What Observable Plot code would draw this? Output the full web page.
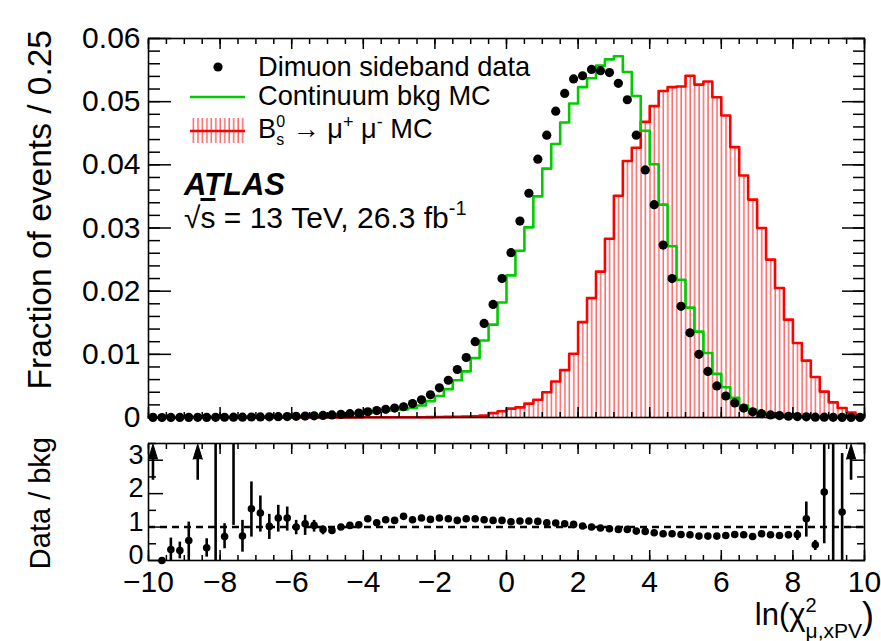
<!DOCTYPE html>
<html><head><meta charset="utf-8">
<script src="https://cdn.jsdelivr.net/npm/d3@7"></script>
<script src="https://cdn.jsdelivr.net/npm/@observablehq/plot@0.6"></script>
<style>
body{margin:0;background:#fff;}
#wrap{position:relative;width:881px;height:641px;overflow:hidden;font-family:"Liberation Sans",Arial,Helvetica,sans-serif;}
#wrap svg{position:absolute;left:0;}
</style></head><body><div id="wrap"></div>
<script>
// ---- histogram binning: 80 bins of width 0.25 in ln(chi2) ----
const binEdges = d3.range(81).map(i => -10 + i * 0.25);

// Dimuon sideband data (fraction of events per bin)
const dataFrac = [
 0.00002,0.00000,0.00001,0.00001,0.00002,0.00003,0.00002,0.00003,0.00004,0.00005,
 0.00005,0.00008,0.00009,0.00010,0.00013,0.00015,0.00018,0.00022,0.00027,0.00033,
 0.00040,0.00050,0.00060,0.00070,0.00090,0.00110,0.00130,0.00150,0.00170,0.00220,
 0.00280,0.00360,0.00470,0.00590,0.00760,0.00950,0.01200,0.01490,0.01790,0.02200,
 0.02610,0.03110,0.03550,0.04090,0.04470,0.04850,0.05130,0.05360,0.05410,0.05510,
 0.05490,0.05460,0.05290,0.05030,0.04470,0.03920,0.03370,0.02730,0.02200,0.01760,
 0.01340,0.01000,0.00730,0.00500,0.00340,0.00230,0.00150,0.00090,0.00060,0.00040,
 0.00030,0.00020,0.00015,0.00010,0.00005,0.00005,0.00003,0.00002,0.00002,0.00001];

// Continuum background MC
const bkgMC = [
 0.00001,0.00001,0.00002,0.00002,0.00003,0.00001,0.00004,0.00002,0.00005,0.00002,
 0.00007,0.00005,0.00006,0.00010,0.00010,0.00012,0.00018,0.00020,0.00026,0.00035,
 0.00044,0.00050,0.00057,0.00065,0.00072,0.00097,0.00107,0.00125,0.00129,0.00150,
 0.00190,0.00260,0.00340,0.00450,0.00590,0.00730,0.00940,0.01220,0.01470,0.01820,
 0.02250,0.02640,0.03010,0.03500,0.03940,0.04330,0.04670,0.04970,0.05230,0.05370,
 0.05570,0.05670,0.05720,0.05470,0.05090,0.04540,0.04010,0.03370,0.02710,0.02180,
 0.01740,0.01360,0.01020,0.00690,0.00480,0.00310,0.00190,0.00120,0.00070,0.00050,
 0.00040,0.00030,0.00020,0.00010,0.00010,0.00003,0.00002,0.00002,0.00001,0.00001];

// Bs0 -> mu+ mu- signal MC
const sigMC = [
 0.00000,0.00000,0.00000,0.00000,0.00000,0.00000,0.00000,0.00000,0.00000,0.00000,
 0.00000,0.00000,0.00000,0.00000,0.00000,0.00000,0.00000,0.00000,0.00001,0.00001,
 0.00001,0.00002,0.00002,0.00002,0.00003,0.00003,0.00004,0.00004,0.00005,0.00005,
 0.00005,0.00006,0.00008,0.00010,0.00012,0.00015,0.00020,0.00030,0.00070,0.00100,
 0.00140,0.00160,0.00220,0.00280,0.00400,0.00570,0.00750,0.01010,0.01510,0.01890,
 0.02310,0.02830,0.03510,0.04060,0.04270,0.04680,0.04930,0.05170,0.05230,0.05240,
 0.05410,0.05270,0.05320,0.05070,0.04780,0.04280,0.03830,0.03450,0.03000,0.02500,
 0.02050,0.01550,0.01180,0.00900,0.00640,0.00410,0.00240,0.00150,0.00080,0.00040];

// Data / bkg ratio with error bar ends (null = not drawn)
const ratio = [
 null,0.00,0.33,0.30,0.60,null,0.38,null,0.72,null,
 0.73,1.55,1.42,1.02,1.27,1.27,1.00,1.10,1.05,0.93,
 0.90,1.00,1.05,1.07,1.25,1.13,1.22,1.20,1.32,1.22,
 1.27,1.23,1.27,1.25,1.20,1.25,1.25,1.22,1.20,1.20,
 1.16,1.18,1.18,1.17,1.13,1.12,1.10,1.08,1.03,1.00,
 0.97,0.95,0.93,0.93,0.88,0.87,0.83,0.80,0.80,0.78,
 0.77,0.73,0.73,0.73,0.75,0.78,0.77,0.72,0.80,0.77,
 0.75,0.77,0.77,1.25,0.47,2.05,null,1.45,null,null];
const ratioLo = [
 null,null,0.00,0.05,0.00,null,0.10,0.00,0.35,1.05,
 0.25,0.70,0.85,0.63,0.85,0.88,0.77,0.75,0.85,0.77,
 0.78,0.92,0.98,1.01,1.19,1.08,1.17,1.16,1.28,1.18,
 1.23,1.20,1.24,1.22,1.17,1.22,1.22,1.19,1.17,1.17,
 1.13,1.15,1.15,1.14,1.10,1.09,1.07,1.05,1.00,0.97,
 0.94,0.92,0.90,0.90,0.85,0.84,0.80,0.77,0.77,0.75,
 0.74,0.70,0.70,0.69,0.71,0.73,0.72,0.66,0.73,0.70,
 0.69,0.65,0.60,0.70,0.30,0.50,0.00,0.00,null,null];
const ratioHi = [
 null,null,0.67,0.55,1.15,null,0.65,3.50,1.10,3.50,
 1.20,2.35,1.93,1.38,1.65,1.60,1.20,1.35,1.20,1.03,
 1.02,1.08,1.12,1.13,1.31,1.18,1.27,1.24,1.36,1.26,
 1.31,1.26,1.30,1.28,1.23,1.28,1.28,1.25,1.23,1.23,
 1.19,1.21,1.21,1.20,1.16,1.15,1.13,1.11,1.06,1.03,
 1.00,0.98,0.96,0.96,0.91,0.90,0.86,0.83,0.83,0.81,
 0.80,0.76,0.76,0.77,0.79,0.83,0.82,0.78,0.87,0.84,
 0.81,0.87,0.90,1.75,0.60,3.50,3.50,3.20,null,null];
// bins whose ratio lies above the panel (drawn as arrows)
const ratioArrowBins = [0, 5, 78];

// axis ticks
const xTicks = [-10,-8,-6,-4,-2,0,2,4,6,8,10];
const xMinorTicks = d3.range(-10, 10.001, 0.5);
const mainYTicks = [0,0.01,0.02,0.03,0.04,0.05,0.06];
const mainYMinor = d3.range(0, 0.0601, 0.002);
const ratioYTicks = [0,1,2,3];
const ratioYMinor = [0.5,1.5,2.5,3.5];

// ---- tables ----
const rows = dataFrac.map((v, i) => ({
  x1: binEdges[i], x2: binEdges[i+1], xc: (binEdges[i] + binEdges[i+1]) / 2,
  data: v, bkg: bkgMC[i], sig: sigMC[i], r: ratio[i], lo: ratioLo[i], hi: ratioHi[i], i
}));
const steps = binEdges.map((e, i) => ({x: e, bkg: bkgMC[Math.min(i, 79)], sig: sigMC[Math.min(i, 79)]}));
const arrows = rows.filter(d => ratioArrowBins.includes(d.i));

const FONT = "Liberation Sans, Arial, Helvetica, sans-serif";
const FS = 30;
const blank = () => "";

const main = Plot.plot({
  width: 881, height: 430,
  marginLeft: 148, marginRight: 17, marginTop: 38, marginBottom: 13,
  x: {domain: [-10, 10]},
  y: {domain: [0, 0.06]},
  style: {fontFamily: FONT, fontSize: FS + "px", background: "none", color: "black", overflow: "visible"},
  marks: [
    Plot.rectY(rows, {x1: "x1", x2: "x2", y: "sig", fill: "url(#hatch)", inset: 0}),
    Plot.line(steps, {x: "x", y: "sig", curve: "step-after", stroke: "#ff0000", strokeWidth: 2.6}),
    Plot.line(steps, {x: "x", y: "bkg", curve: "step-after", stroke: "#00cc00", strokeWidth: 2.6}),
    Plot.dot(rows, {x: "xc", y: "data", r: 4.6, fill: "black"}),
    Plot.frame({stroke: "black", strokeWidth: 1.6}),
    Plot.axisY({anchor: "left", ticks: mainYTicks, tickSize: -23, tickPadding: 31, strokeWidth: 1.5,
      tickFormat: d => d === 0 ? "0" : d.toFixed(2), fontSize: FS, label: null}),
    Plot.axisY({anchor: "left", ticks: mainYMinor, tickSize: -12, tickFormat: blank, strokeWidth: 1.5, label: null}),
    Plot.axisY({anchor: "right", ticks: mainYTicks, tickSize: -23, tickFormat: blank, strokeWidth: 1.5, label: null}),
    Plot.axisY({anchor: "right", ticks: mainYMinor, tickSize: -12, tickFormat: blank, strokeWidth: 1.5, label: null}),
    Plot.axisX({anchor: "bottom", ticks: xTicks, tickSize: -10, tickFormat: blank, strokeWidth: 1.5, label: null}),
    Plot.axisX({anchor: "bottom", ticks: xMinorTicks, tickSize: -5, tickFormat: blank, strokeWidth: 1.5, label: null}),
    Plot.axisX({anchor: "top", ticks: xTicks, tickSize: -10, tickFormat: blank, strokeWidth: 1.5, label: null}),
    Plot.axisX({anchor: "top", ticks: xMinorTicks, tickSize: -5, tickFormat: blank, strokeWidth: 1.5, label: null})
  ]
});

const ratioPlot = Plot.plot({
  width: 881, height: 211,
  marginLeft: 148, marginRight: 17, marginTop: 13, marginBottom: 81,
  x: {domain: [-10, 10]},
  y: {domain: [0, 3.5]},
  style: {fontFamily: FONT, fontSize: FS + "px", background: "none", color: "black", overflow: "visible"},
  marks: [
    Plot.ruleY([1], {stroke: "black", strokeWidth: 2.6, strokeDasharray: "7,5"}),
    Plot.ruleX(rows.filter(d => d.lo != null), {x: "xc", y1: "lo", y2: "hi", stroke: "black", strokeWidth: 2.6}),
    Plot.dot(rows.filter(d => d.r != null), {x: "xc", y: "r", r: 3.8, fill: "black"}),
    Plot.ruleX(arrows, {x: "xc", y1: 2.4, y2: 3.1, stroke: "black", strokeWidth: 2.6}),
    Plot.vector(arrows, {x: "xc", y: 3.03, length: 15, r: 4.6, shape: "spike", anchor: "start", fill: "black", stroke: "black", strokeWidth: 1}),
    Plot.frame({stroke: "black", strokeWidth: 1.6}),
    Plot.axisY({anchor: "left", ticks: ratioYTicks, tickSize: -15, tickFormat: blank, strokeWidth: 1.5, label: null}),
    Plot.axisY({anchor: "left", ticks: ratioYTicks, tickSize: 0, tickPadding: 5, strokeWidth: 0,
      tickFormat: d => String(d), fontSize: 27, dy: -5, label: null}),
    Plot.axisY({anchor: "left", ticks: ratioYMinor, tickSize: -8, tickFormat: blank, strokeWidth: 1.5, label: null}),
    Plot.axisY({anchor: "right", ticks: ratioYTicks, tickSize: -15, tickFormat: blank, strokeWidth: 1.5, label: null}),
    Plot.axisY({anchor: "right", ticks: ratioYMinor, tickSize: -8, tickFormat: blank, strokeWidth: 1.5, label: null}),
    Plot.axisX({anchor: "bottom", ticks: xTicks, tickSize: -10, tickPadding: 20, strokeWidth: 1.5,
      tickFormat: d => d < 0 ? "\u2212" + Math.abs(d) : String(d), fontSize: FS, label: null}),
    Plot.axisX({anchor: "bottom", ticks: xMinorTicks, tickSize: -5, tickFormat: blank, strokeWidth: 1.5, label: null}),
    Plot.axisX({anchor: "top", ticks: xTicks, tickSize: -10, tickFormat: blank, strokeWidth: 1.5, label: null}),
    Plot.axisX({anchor: "top", ticks: xMinorTicks, tickSize: -5, tickFormat: blank, strokeWidth: 1.5, label: null})
  ]
});

const wrap = document.getElementById("wrap");
main.style.top = "0px";
ratioPlot.style.top = "430px";
wrap.appendChild(main);
wrap.appendChild(ratioPlot);

// hatch pattern for the signal histogram
const defs = d3.select(main).insert("defs", ":first-child");
const pat = defs.append("pattern").attr("id", "hatch").attr("patternUnits", "userSpaceOnUse")
  .attr("width", 4.475).attr("height", 20);
pat.append("line").attr("x1", 1).attr("x2", 1).attr("y1", 0).attr("y2", 20)
  .attr("stroke", "#ff2a2a").attr("stroke-width", 1.2).attr("stroke-opacity", 0.9);

// ---- overlay: legend, labels, axis titles ----
const ov = d3.select(wrap).append("svg").attr("width", 881).attr("height", 641)
  .style("top", "0px").style("pointer-events", "none")
  .attr("font-family", FONT).attr("fill", "black");
const od = ov.append("defs");
const pat2 = od.append("pattern").attr("id", "hatchL").attr("patternUnits", "userSpaceOnUse")
  .attr("width", 4.475).attr("height", 20);
pat2.append("line").attr("x1", 1).attr("x2", 1).attr("y1", 0).attr("y2", 20)
  .attr("stroke", "#ff2a2a").attr("stroke-width", 1.2).attr("stroke-opacity", 0.9);

function rich(parent, x, y, parts, anchor = "start") {
  const g = parent.append("g");
  let cx = 0, stackStart = 0;
  for (const p of parts) {
    const sx = p.stack ? stackStart : cx;
    const t = g.append("text").attr("x", sx).attr("y", p.dy || 0).attr("font-size", p.fs)
      .attr("font-weight", p.bold ? "bold" : null).attr("font-style", p.italic ? "italic" : null)
      .text(p.t);
    if (p.deco) t.style("text-decoration", p.deco);
    const w = t.node().getComputedTextLength();
    if (!p.stack) stackStart = sx;
    cx = Math.max(cx, sx + w);
  }
  g.attr("transform", `translate(${anchor === "end" ? x - cx : x},${y})`);
  return g;
}

const LF = 27.2, SF = 18;
// legend symbols
ov.append("circle").attr("cx", 218).attr("cy", 67).attr("r", 4.6).attr("fill", "black");
ov.append("line").attr("x1", 190).attr("x2", 245).attr("y1", 97).attr("y2", 97).attr("stroke", "#00cc00").attr("stroke-width", 2.6);
ov.append("rect").attr("x", 190).attr("y", 118).attr("width", 55).attr("height", 25).attr("fill", "url(#hatchL)");
ov.append("line").attr("x1", 190).attr("x2", 245).attr("y1", 131).attr("y2", 131).attr("stroke", "#ff0000").attr("stroke-width", 2.6);
// legend text
rich(ov, 258, 76, [{t: "Dimuon sideband data", fs: LF}]);
rich(ov, 258, 105, [{t: "Continuum bkg MC", fs: LF}]);
rich(ov, 258, 138, [
  {t: "B", fs: LF}, {t: "s", fs: 16, dy: 7}, {t: "0", fs: 16, dy: -11, stack: true},
  {t: "\u00a0\u2192\u00a0\u03bc", fs: LF}, {t: "+", fs: SF, dy: -10},
  {t: "\u00a0\u03bc", fs: LF}, {t: "-", fs: SF, dy: -10}, {t: "\u00a0MC", fs: LF}
]);
// ATLAS label
rich(ov, 184, 195, [{t: "ATLAS", fs: 31, bold: true, italic: true}]);
rich(ov, 184, 228, [
  {t: "\u221a", fs: 30}, {t: "s", fs: 30, deco: "overline"},
  {t: "\u00a0=\u00a013\u00a0TeV,\u00a026.3\u00a0fb", fs: 30}, {t: "-1", fs: 20, dy: -13}
]);
// axis titles
ov.append("text").attr("transform", "translate(51,30) rotate(-90)").attr("text-anchor", "end")
  .attr("font-size", 33.5).text("Fraction of events / 0.25");
ov.append("text").attr("transform", "translate(50,437) rotate(-90)").attr("text-anchor", "end")
  .attr("font-size", 29).text("Data / bkg");
rich(ov, 874, 625, [
  {t: "ln(\u03c7", fs: 31}, {t: "2", fs: 20, dy: -13}, {t: "\u03bc,xPV", fs: 21, dy: 13, stack: true},
  {t: ")", fs: 36, dy: 3}
], "end");
</script></body></html>
